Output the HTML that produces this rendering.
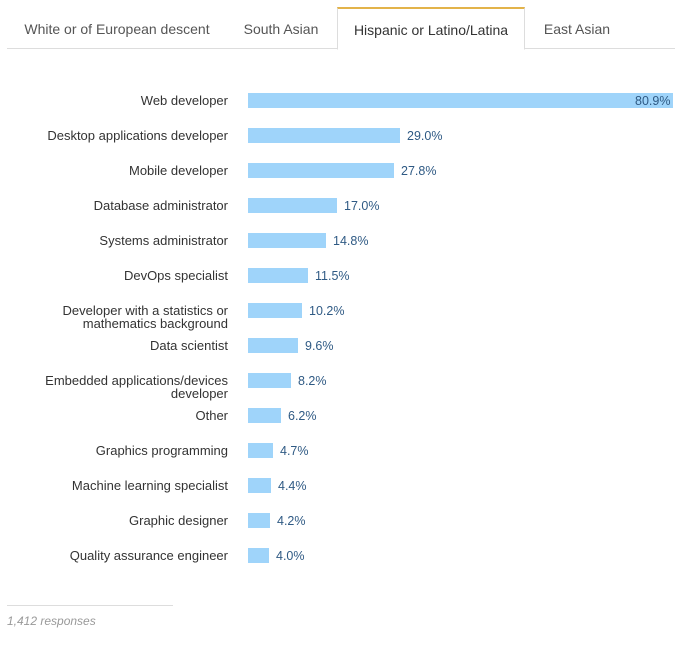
<!DOCTYPE html>
<html><head><style>
body{margin:0;width:677px;height:645px;background:#fff;font-family:"Liberation Sans",Arial,sans-serif;position:relative;overflow:hidden}
.tabs{position:absolute;left:7px;top:0;width:668px;height:48px;border-bottom:1px solid #ddd}
.tab{position:absolute;top:7px;height:41px;line-height:44px;font-size:14px;color:#555;text-align:center}
.tab.act{background:#fff;border:1px solid #ddd;border-top:2px solid #e3b34a;border-bottom:1px solid #fff;color:#333;height:40px;line-height:43px}
.lab{position:absolute;right:449px;font-size:13px;color:#333;text-align:right;line-height:13px;white-space:nowrap}
.bar{position:absolute;left:248px;height:15px;background:#9fd4fa}
.val{position:absolute;font-size:12.5px;color:#2f5a84}
</style></head><body>
<div class="tabs">
<div class="tab" style="left:0;width:220px">White or of European descent</div>
<div class="tab" style="left:222px;width:104px">South Asian</div>
<div class="tab act" style="left:330px;width:186px">Hispanic or Latino/Latina</div>
<div class="tab" style="left:520px;width:100px">East Asian</div>
</div>
<div id="c"></div>
<div style="position:absolute;left:7px;top:605px;width:166px;border-top:1px solid #ddd"></div>
<div style="position:absolute;left:7px;top:614px;font-size:12px;font-style:italic;color:#999">1,412 responses</div>
<script>
var d=[["Web developer",80.9],["Desktop applications developer",29.0],["Mobile developer",27.8],["Database administrator",17.0],["Systems administrator",14.8],["DevOps specialist",11.5],["Developer with a statistics or<br>mathematics background",10.2],["Data scientist",9.6],["Embedded applications/devices<br>developer",8.2],["Other",6.2],["Graphics programming",4.7],["Machine learning specialist",4.4],["Graphic designer",4.2],["Quality assurance engineer",4.0]];
var h="";
d.forEach(function(r,i){var c=100+35*i;var w=Math.round(r[1]*5.253);
h+='<div class="lab" style="top:'+(c-6)+'px">'+r[0]+'</div>';
h+='<div class="bar" style="top:'+(c-7)+'px;width:'+w+'px"></div>';
if(i==0)h+='<div class="val" style="top:'+(c-6)+'px;left:635px">'+r[1].toFixed(1)+'%</div>';
else h+='<div class="val" style="top:'+(c-6)+'px;left:'+(248+w+7)+'px">'+r[1].toFixed(1)+'%</div>';});
document.getElementById("c").innerHTML=h;
</script>
</body></html>
